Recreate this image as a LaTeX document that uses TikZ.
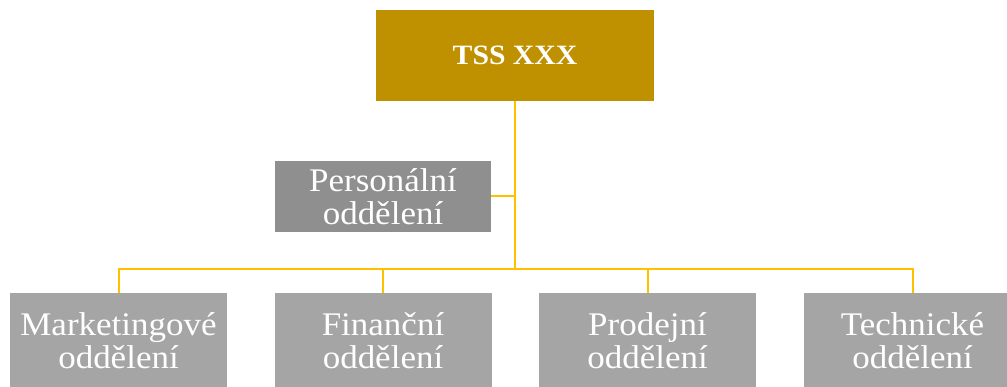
\documentclass[tikz,border=0pt]{standalone}
\usepackage{fontspec}
\newfontfamily\orgfont[FakeStretch=1.06]{Liberation Serif}
\usepackage{tikz}
\usetikzlibrary{positioning,calc}
\usepackage{xcolor}
\definecolor{headgold}{RGB}{191,144,0}
\definecolor{linkgold}{RGB}{255,192,0}
\definecolor{staffgray}{RGB}{143,143,143}
\definecolor{deptgray}{RGB}{165,165,165}

\begin{document}
\begin{tikzpicture}[x=1pt,y=-1pt,
  every node/.style={font=\orgfont\fontsize{33}{33}\selectfont,text=white,align=center,inner sep=0pt},
  dept/.style={fill=deptgray,minimum width=217pt,minimum height=96pt},
  link/.style={draw=linkgold,line width=2pt}]
\useasboundingbox (0,0) rectangle (1007,387);
\clip (0,0) rectangle (1007,387);
\node[fill=headgold,minimum width=278pt,minimum height=91pt,font=\orgfont\bfseries\fontsize{28}{28}\selectfont] (head) at (515,55.5) {TSS XXX};
\node[fill=staffgray,minimum width=216pt,minimum height=71pt] (hr) at (383,196.5) {Personální\\oddělení};
\node[dept] (mkt)  at (118.5,341) {Marketingové\\oddělení};
\node[dept] (fin)  at (383,341)   {Finanční\\oddělení};
\node[dept] (prod) at (647.5,341) {Prodejní\\oddělení};
\node[dept] (tech) at (912.5,341) {Technické\\oddělení};
\coordinate (bus) at (head.south |- 0,269);
\draw[link] (head.south) -- (bus);
\draw[link] (hr.east) -- (hr.east -| head.south);
\draw[link] (mkt.north) |- (bus) -| (tech.north);
\draw[link] (fin.north) -- (fin.north |- bus);
\draw[link] (prod.north) -- (prod.north |- bus);
\end{tikzpicture}
\end{document}
